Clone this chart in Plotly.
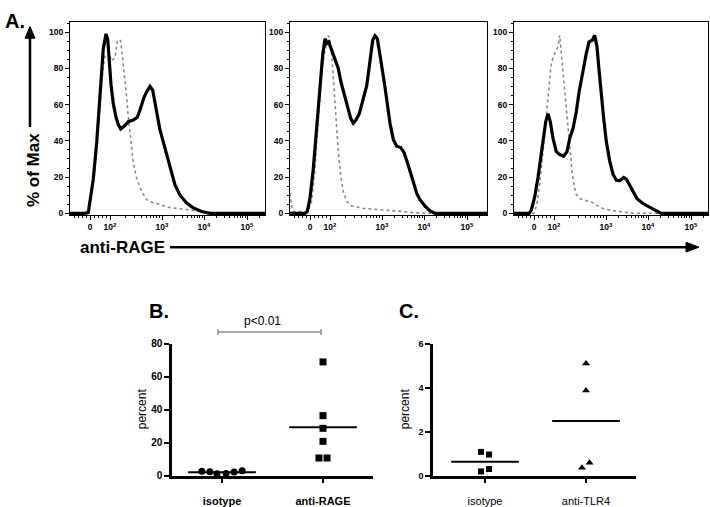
import numpy as np
import plotly.graph_objects as go

W, H = 710, 507
FONT = "Arial, Liberation Sans, sans-serif"

# ---------------- Panel A data (x: biexponential display channel, y: % of max) ----------------
a1_rage_x = [0, 15, 18.3, 20, 23.3, 26.7, 29.3, 31.7, 33.3, 36, 37.7, 39.3, 41, 43.3, 46, 48.3, 50.7, 54, 58.3, 63.3,
             67.3, 70, 74, 76.7, 80, 82.7, 85, 87.3, 90, 93.3, 96.7, 100.7, 105, 110, 116.7, 123.3, 131.7, 140, 195]
a1_rage_y = [0, 0, 0.5, 6.6, 19, 39, 60.5, 78, 91, 99, 96, 84, 71, 60.5, 53, 49, 46.5, 48, 50.6, 51.5,
             53, 57, 64, 67, 70, 68, 62, 54, 46, 39, 32, 23, 15.6, 10, 5.7, 3, 1, 0, 0]
a1_iso_x = [0, 18, 20, 23.3, 26.7, 30, 32.7, 35, 38.3, 41.7, 45, 47.3, 49.3, 50.7, 52, 53.3, 56, 58.3, 60.7, 63.3,
            66.7, 71.7, 76.7, 83.3, 90, 96.7, 106.7, 116.7, 130, 146.7, 195]
a1_iso_y = [0, 0, 5, 17, 37, 60, 78, 87, 89, 84, 86, 95, 96, 95, 89, 82, 68, 53, 39, 28,
            19, 12, 7.5, 5.7, 5, 3.4, 2.7, 2, 1, 0, 0]

a2_rage_x = [0, 15, 17.3, 20, 23.3, 26, 28.3, 30.7, 32.7, 35, 36.7, 38.7, 41, 43.3, 46, 48.3, 50.7, 53.3, 56, 58.3,
             60.7, 63.3, 66, 69.3, 71.7, 74, 76.7, 78.7, 80.7, 82.7, 85, 87.3, 90, 92.7, 95, 97.3, 100, 103.3, 106.7, 110.7,
             114, 117.3, 120.7, 123.3, 126.7, 130, 135, 140, 145, 197]
a2_rage_y = [0, 0, 1, 8.4, 24.6, 42.5, 60.5, 78.5, 87.4, 96.4, 93.7, 94.6, 91, 87.4, 84, 80, 73, 67.7, 62, 57,
             52.4, 49.7, 51.5, 55, 60.5, 66, 70.4, 78.5, 87.4, 95.5, 98, 96.4, 87.4, 78.5, 69.5, 60.5, 49.7, 40.8, 37, 36.3,
             33.6, 28.2, 22.8, 17.4, 11, 7.5, 4, 1.3, 0, 0]
a2_iso_x = [0, 1.5, 3, 10, 18, 21.7, 25, 28.3, 31.7, 35, 38.3, 40, 41.7, 44, 46, 48.3, 50.7, 53.3, 56.7, 61.7,
            73.3, 90, 106.7, 123.3, 140, 197]
a2_iso_y = [11, 4, 1, 1, 1, 6.6, 24.6, 51.5, 78.5, 89.8, 98, 96.4, 87.4, 69.5, 51.5, 33.6, 21, 12, 6.6, 4,
            2.7, 2.2, 1.3, 0.4, 0, 0]

a3_tlr_x = [0, 15, 17.3, 20.7, 24, 27.3, 29.7, 31.7, 34, 36.3, 39, 42.3, 45.7, 49.7, 53, 55.7, 59, 62.3, 65, 67.3,
            69.7, 72.3, 75, 78.3, 80.7, 83, 85, 87.3, 89.7, 92.3, 95.7, 99, 102.3, 105.7, 109.7, 112.3, 115.7, 119, 123, 129,
            135.7, 142.3, 147.3, 194]
a3_tlr_y = [0, 0, 1.8, 9, 19.8, 34, 43, 50.5, 55, 50.5, 41.4, 34, 32.4, 31.5, 34, 41.4, 46.8, 56, 66.7, 73.9,
            81, 88.3, 94.6, 95.5, 98.2, 91.9, 79.3, 64.9, 52.3, 39.6, 28.8, 21.6, 18.4, 18, 19.8, 18.9, 15.3, 11.7, 8.1, 5.4,
            3.2, 1.4, 0, 0]
a3_iso_x = [0, 20, 23, 25.7, 29, 32.3, 35, 37.3, 40.7, 44, 45.7, 47.3, 49.7, 52.3, 55, 58.3, 61.7, 65.7, 70.7, 77.3,
            82.3, 89, 99, 109, 119, 194]
a3_iso_y = [0, 0, 5, 16.2, 34, 52.3, 70.3, 82.9, 88.3, 91.9, 98.2, 88.3, 73.9, 56, 37.8, 21.6, 10.8, 8.1, 7.2, 6.3,
            4.5, 2.7, 1.4, 0.5, 0, 0]

# biexponential axis ticks (display channel)
a_tick_vals = [20, 40, 92, 134, 177]
a_tick_text = ["0", "10<sup>2</sup>", "10<sup>3</sup>", "10<sup>4</sup>", "10<sup>5</sup>"]

# ---------------- Panel B / C data ----------------
b_categories = ["isotype", "anti-RAGE"]
b_isotype = [2.6, 2.3, 1.2, 1.3, 2.2, 2.9]
b_rage = [69, 36.4, 28.7, 20.8, 10.7, 10.7]
b_iso_jitter = [-0.2, -0.12, -0.05, 0.04, 0.12, 0.2]
b_rage_jitter = [0, 0, 0, 0, -0.04, 0.04]

c_categories = ["isotype", "anti-TLR4"]
c_isotype = [1.08, 0.96, 0.30, 0.19]
c_tlr4 = [5.1, 3.88, 0.59, 0.36]
c_iso_jitter = [-0.04, 0.04, 0.04, -0.04]
c_tlr_jitter = [0, 0, 0.035, -0.04]

# ---------------- helpers: window pixel -> paper ----------------
def px(xp):
    return xp / W

def py(yp):
    return 1 - yp / H

# ---------------- figure ----------------
fig = go.Figure()

def hist_traces(xa, ya, xs, ys, xi, yi):
    fig.add_trace(go.Scatter(x=xi, y=yi, mode="lines", xaxis=xa, yaxis=ya,
                             line=dict(color="#8a8a8a", width=1.6, dash="dot"), hoverinfo="skip"))
    fig.add_trace(go.Scatter(x=xs, y=ys, mode="lines", xaxis=xa, yaxis=ya,
                             line=dict(color="black", width=3.2), hoverinfo="skip"))

hist_traces("x", "y", a1_rage_x, a1_rage_y, a1_iso_x, a1_iso_y)
hist_traces("x2", "y2", a2_rage_x, a2_rage_y, a2_iso_x, a2_iso_y)
hist_traces("x3", "y3", a3_tlr_x, a3_tlr_y, a3_iso_x, a3_iso_y)

def scatter_group(xa, ya, cat, vals, jit, symbol, size):
    fig.add_trace(go.Scatter(x=[cat + j for j in jit], y=vals, mode="markers", xaxis=xa, yaxis=ya,
                             marker=dict(symbol=symbol, size=size, color="black"), cliponaxis=False))
    m = float(np.mean(vals))
    fig.add_trace(go.Scatter(x=[cat - 0.335, cat + 0.335], y=[m, m], mode="lines", xaxis=xa, yaxis=ya,
                             line=dict(color="black", width=2), cliponaxis=False))

scatter_group("x4", "y4", 1, b_isotype, b_iso_jitter, "circle", 7)
scatter_group("x4", "y4", 2, b_rage, b_rage_jitter, "square", 7)
scatter_group("x5", "y5", 1, c_isotype, c_iso_jitter, "square", 6)
scatter_group("x5", "y5", 2, c_tlr4, c_tlr_jitter, "triangle-up", 7)

# minor log ticks for biexponential axes
def seg(p0, p1):
    return [p0 + (p1 - p0) * np.log10(m) for m in range(2, 10)]
minor_x = [4, 8, 12, 16, 24, 28, 32, 36] + seg(40, 92) + seg(92, 134) + seg(134, 177) + [177 + 43 * np.log10(2)]

a_y_dom = [py(214.2), py(16.7)]

def a_x(dom, rmax, anchor):
    return dict(domain=dom, range=[0, rmax], anchor=anchor, tickmode="array", tickvals=a_tick_vals,
                ticktext=a_tick_text, ticks="outside", ticklen=4, tickwidth=1, tickcolor="black",
                showline=True, linecolor="black", linewidth=1, mirror=True, showgrid=False, zeroline=False,
                tickfont=dict(size=8.5, weight="bold", family=FONT),
                minor=dict(tickmode="array", tickvals=minor_x, ticks="outside", ticklen=2, tickwidth=1,
                           tickcolor="black", showgrid=False))

def a_y(anchor):
    return dict(domain=a_y_dom, range=[-1, 105.4], anchor=anchor, tickmode="linear", tick0=0, dtick=20,
                ticks="outside", ticklen=4, tickwidth=1, tickcolor="black", showline=True, linecolor="black",
                linewidth=1, mirror=True, showgrid=False, zeroline=False,
                tickfont=dict(size=8.5, weight="bold", family=FONT),
                minor=dict(dtick=5, ticks="outside", ticklen=2, tickwidth=1, tickcolor="black", showgrid=False))

bc_y_dom = [py(481), py(346)]

def cat_x(dom, rng, anchor, cats, bold):
    return dict(domain=dom, range=rng, anchor=anchor, tickmode="array", tickvals=[1, 2], ticktext=cats,
                ticks="outside", ticklen=5, tickwidth=2, tickcolor="black", showline=True, linecolor="black",
                linewidth=2.5, showgrid=False, zeroline=False, ticklabelstandoff=8,
                tickfont=dict(size=11, weight="bold" if bold else "normal", family=FONT))

def val_y(anchor, rng, dtick, size):
    return dict(domain=bc_y_dom, range=rng, anchor=anchor, tickmode="linear", tick0=0, dtick=dtick,
                ticks="outside", ticklen=5, tickwidth=2, tickcolor="black", showline=True, linecolor="black",
                linewidth=2.5, showgrid=False, zeroline=False,
                tickfont=dict(size=size, weight="bold", family=FONT))

ann = []
def text(x, y, s, size, bold=True, xanchor="center", angle=0, xref="paper"):
    ann.append(dict(x=x, y=y, xref=xref, yref="paper", text=s, showarrow=False, xanchor=xanchor,
                    yanchor="middle", textangle=angle,
                    font=dict(size=size, family=FONT, color="black", weight="bold" if bold else "normal")))

text(px(3), py(15), "A.", 20, xanchor="left")
text(px(33), py(168), "% of Max", 17, angle=-90)
text(px(78), py(247), "anti-RAGE", 17, xanchor="left")
text(px(147), py(312), "B.", 20, xanchor="left")
text(px(397), py(312), "C.", 20, xanchor="left")
text(1.40, py(323), "p&lt;0.01", 12, bold=False, xref="x4")
text(px(142), py(413), "percent", 12, bold=False, angle=-90)
text(px(405), py(413), "percent", 12, bold=False, angle=-90)

GRAY = "#8c8c8c"
shapes = [
    # significance bracket in panel B
    dict(type="line", xref="x4", yref="paper", x0=0.96, x1=1.98, y0=py(334), y1=py(334),
         line=dict(color=GRAY, width=1.5)),
    dict(type="line", xref="x4", yref="paper", x0=0.96, x1=0.96, y0=py(331), y1=py(337),
         line=dict(color=GRAY, width=1.5)),
    dict(type="line", xref="x4", yref="paper", x0=1.98, x1=1.98, y0=py(331), y1=py(337),
         line=dict(color=GRAY, width=1.5)),
    # vertical "% of Max" arrow
    dict(type="line", xref="paper", yref="paper", x0=px(30), x1=px(30), y0=py(124), y1=py(32),
         line=dict(color="black", width=2.5)),
    dict(type="path", xref="paper", yref="paper",
         path=f"M {px(25)},{py(33)} L {px(30)},{py(21)} L {px(35)},{py(33)} Z",
         fillcolor="black", line=dict(color="black", width=1)),
    # horizontal "anti-RAGE" arrow
    dict(type="line", xref="paper", yref="paper", x0=px(170), x1=px(688), y0=py(247), y1=py(247),
         line=dict(color="black", width=2.5)),
    dict(type="path", xref="paper", yref="paper",
         path=f"M {px(686)},{py(242)} L {px(699)},{py(247)} L {px(686)},{py(252)} Z",
         fillcolor="black", line=dict(color="black", width=1)),
]

fig.update_layout(
    width=W, height=H, margin=dict(l=0, r=0, t=0, b=0),
    paper_bgcolor="white", plot_bgcolor="white", showlegend=False,
    font=dict(family=FONT, color="black"),
    xaxis=a_x([px(70), px(265)], 195, "y"),
    xaxis2=a_x([px(290), px(487)], 197, "y2"),
    xaxis3=a_x([px(514), px(708)], 194, "y3"),
    yaxis=a_y("x"), yaxis2=a_y("x2"), yaxis3=a_y("x3"),
    xaxis4=cat_x([px(172), px(373)], [0.505, 2.495], "y4", b_categories, True),
    yaxis4=val_y("x4", [0, 80], 20, 10),
    xaxis5=cat_x([px(433), px(636)], [0.485, 2.495], "y5", c_categories, False),
    yaxis5=val_y("x5", [0, 6], 2, 9),
    annotations=ann, shapes=shapes,
)

# remove the default page margin so the 710x507 figure fills the window exactly
fig.write_html(
    "out.html",
    config={"displayModeBar": False},
    post_script="document.body.style.margin='0';document.body.style.overflow='hidden';",
)
